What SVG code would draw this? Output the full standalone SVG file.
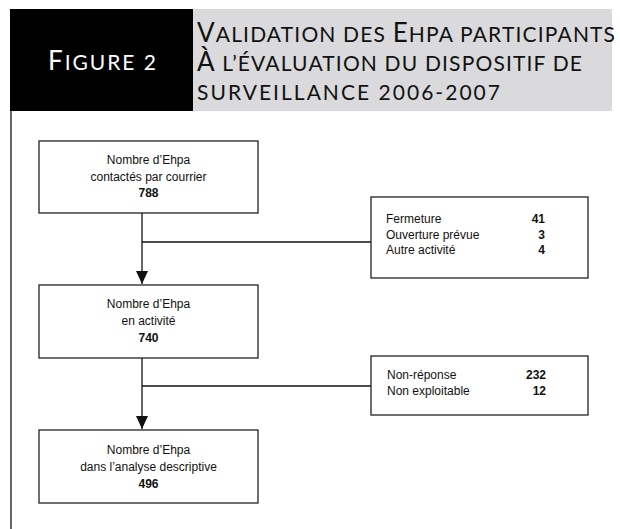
<svg xmlns="http://www.w3.org/2000/svg" width="620" height="529" viewBox="0 0 620 529">
<defs>
<style>
.hd{font-family:Lato,"Open Sans","DejaVu Sans",sans-serif;}
.big{font-size:26px;}
.sm{font-size:21px;}
.t{font-family:"Liberation Sans",Arial,sans-serif;font-size:12px;fill:#111;}
.b{font-weight:bold;}
.box{fill:#fff;stroke:#222;stroke-width:1.3;}
.ln{fill:none;stroke:#111;stroke-width:1.3;}
</style>
<marker id="ar" viewBox="0 0 13 12" refX="13" refY="6" markerWidth="13" markerHeight="12" markerUnits="userSpaceOnUse" orient="auto">
<path d="M0,0 L13,6 L0,12 Z" fill="#111"/>
</marker>
</defs>
<rect width="620" height="529" fill="#fff"/>
<g id="header">
<rect x="10" y="9" width="183" height="102" fill="#000"/>
<rect x="193" y="9" width="419" height="102" fill="#dadadc"/>
<text class="hd" x="48" y="70" fill="#fff" textLength="108" lengthAdjust="spacing"><tspan class="big">F</tspan><tspan class="sm">IGURE 2</tspan></text>
<text class="hd" x="197" y="42" fill="#111" textLength="418" lengthAdjust="spacing"><tspan class="big">V</tspan><tspan class="sm">ALIDATION DES </tspan><tspan class="big">E</tspan><tspan class="sm">HPA PARTICIPANTS</tspan></text>
<text class="hd" x="197" y="71" fill="#111" textLength="385" lengthAdjust="spacing"><tspan class="big">À</tspan><tspan class="sm"> L’ÉVALUATION DU DISPOSITIF DE</tspan></text>
<text class="hd" x="197" y="100" fill="#111" textLength="303" lengthAdjust="spacing"><tspan class="sm">SURVEILLANCE 2006-2007</tspan></text>
<line x1="11" y1="111" x2="11" y2="529" stroke="#333" stroke-width="1.5"/>
</g>
<g id="connectors">
<line class="ln" x1="142" y1="213" x2="142" y2="284" marker-end="url(#ar)"/>
<line class="ln" x1="142" y1="242" x2="371" y2="242"/>
<line class="ln" x1="142" y1="358" x2="142" y2="429" marker-end="url(#ar)"/>
<line class="ln" x1="142" y1="386" x2="371" y2="386"/>
</g>
<g id="n1">
<rect class="box" x="39" y="141" width="219" height="72"/>
<text class="t" text-anchor="middle"><tspan x="148.5" y="164">Nombre d’Ehpa</tspan><tspan x="148.5" y="180.5">contactés par courrier</tspan><tspan class="b" x="148.5" y="197">788</tspan></text>
</g>
<g id="n2">
<rect class="box" x="39" y="285" width="219" height="73"/>
<text class="t" text-anchor="middle"><tspan x="148.5" y="308">Nombre d’Ehpa</tspan><tspan x="148.5" y="325">en activité</tspan><tspan class="b" x="148.5" y="342">740</tspan></text>
</g>
<g id="n3">
<rect class="box" x="39" y="430" width="219" height="73"/>
<text class="t" text-anchor="middle"><tspan x="148.5" y="454">Nombre d’Ehpa</tspan><tspan x="148.5" y="471">dans l’analyse descriptive</tspan><tspan class="b" x="148.5" y="488">496</tspan></text>
</g>
<g id="e1">
<rect class="box" x="371" y="197" width="217" height="81"/>
<text class="t"><tspan x="386" y="223">Fermeture</tspan><tspan x="386" y="238.5">Ouverture prévue</tspan><tspan x="386" y="254">Autre activité</tspan></text>
<text class="t b" text-anchor="end"><tspan x="545" y="223">41</tspan><tspan x="545" y="238.5">3</tspan><tspan x="545" y="254">4</tspan></text>
</g>
<g id="e2">
<rect class="box" x="371" y="356" width="217" height="59"/>
<text class="t"><tspan x="387" y="379">Non-réponse</tspan><tspan x="387" y="395">Non exploitable</tspan></text>
<text class="t b" text-anchor="end"><tspan x="546" y="379">232</tspan><tspan x="546" y="395">12</tspan></text>
</g>
</svg>
